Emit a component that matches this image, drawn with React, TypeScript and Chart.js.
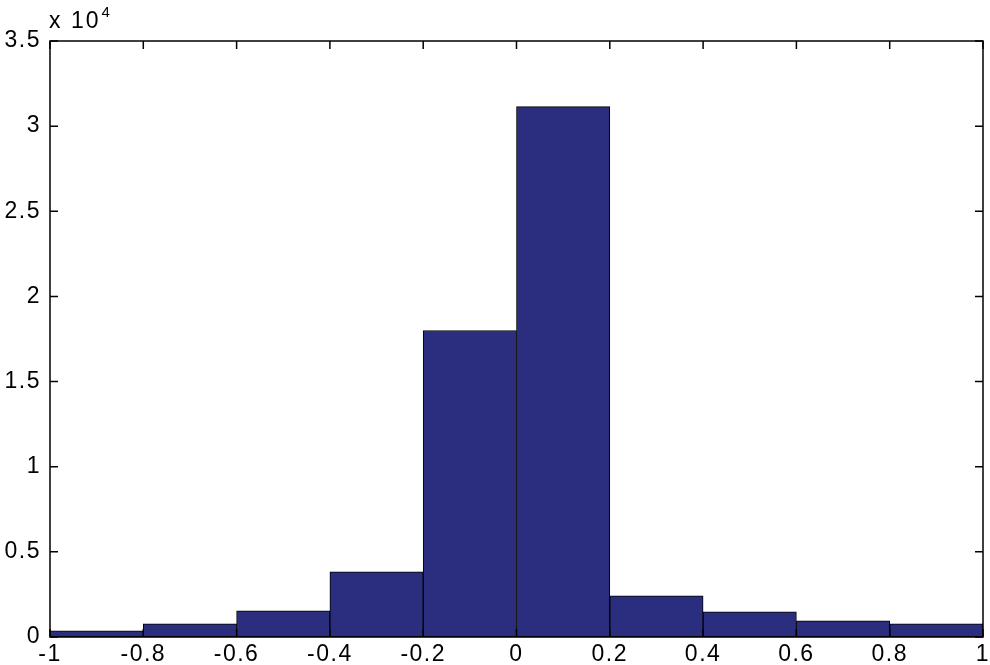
import React, { useEffect, useRef } from "react";
import { Chart, registerables } from "chart.js";

Chart.register(...registerables);

// Histogram bin centers (bins of width 0.2 from -1 to 1)
const binCenters = [-0.9, -0.7, -0.5, -0.3, -0.1, 0.1, 0.3, 0.5, 0.7, 0.9];
// Counts per bin
const counts = [360, 780, 1540, 3820, 18000, 31150, 2420, 1480, 950, 780];
// Axis ranges and steps
const xMin = -1;
const xMax = 1;
const xStep = 0.2;
const yMin = 0;
const yMax = 35000;
const yStep = 5000;
const yExponentLabel = "x 10";
const yExponent = "4";

const FONT = "Liberation Sans";
const FS = 23;
const LS = "1.5px";
const BAR_COLOR = "#2b2e7e";

const boxPlugin = {
  id: "matlabBox",
  beforeInit(chart: any) {
    (chart.ctx as any).letterSpacing = LS;
  },
  beforeDraw(chart: any) {
    (chart.ctx as any).letterSpacing = LS;
  },
  afterDraw(chart: any) {
    const ctx = chart.ctx;
    const a = chart.chartArea;
    const xs = chart.scales.x;
    const ys = chart.scales.y;
    ctx.save();
    (ctx as any).letterSpacing = "0px";
    ctx.strokeStyle = "#000";
    ctx.lineWidth = 1.5;
    ctx.strokeRect(a.left, a.top, a.right - a.left, a.bottom - a.top);
    const tl = 8;
    ctx.beginPath();
    xs.ticks.forEach((t: any) => {
      const px = xs.getPixelForValue(t.value);
      ctx.moveTo(px, a.bottom);
      ctx.lineTo(px, a.bottom - tl);
      ctx.moveTo(px, a.top);
      ctx.lineTo(px, a.top + tl);
    });
    ys.ticks.forEach((t: any) => {
      const py = ys.getPixelForValue(t.value);
      ctx.moveTo(a.left, py);
      ctx.lineTo(a.left + tl, py);
      ctx.moveTo(a.right, py);
      ctx.lineTo(a.right - tl, py);
    });
    ctx.stroke();
    // exponent label
    ctx.fillStyle = "#000";
    ctx.textBaseline = "alphabetic";
    ctx.textAlign = "left";
    (ctx as any).letterSpacing = "2px";
    ctx.font = `${FS}px "${FONT}"`;
    ctx.fillText(yExponentLabel, a.left - 1, 28);
    const w = ctx.measureText(yExponentLabel).width;
    ctx.font = `15px "${FONT}"`;
    ctx.fillText(yExponent, a.left + w, 17);
    ctx.restore();
  },
};

export default function App() {
  const ref = useRef<HTMLCanvasElement>(null);
  useEffect(() => {
    if (!ref.current) return;
    const chart = new Chart(ref.current, {
      type: "bar",
      data: {
        datasets: [
          {
            data: binCenters.map((c, i) => ({ x: c, y: counts[i] })),
            backgroundColor: BAR_COLOR,
            borderColor: "#000",
            borderWidth: 1,
            borderSkipped: false,
            barPercentage: 1,
            categoryPercentage: 1,
          },
        ],
      },
      options: {
        responsive: false,
        animation: false,
        layout: { padding: { top: 41, right: 0, left: 0, bottom: 0 } },
        plugins: {
          legend: { display: false },
          tooltip: { enabled: false },
        },
        scales: {
          x: {
            type: "linear",
            min: xMin,
            max: xMax,
            offset: false,
            grid: { display: false, drawTicks: false },
            border: { display: false },
            afterFit: (s: any) => {
              s.height = 28;
              s.paddingLeft = 0;
              s.paddingRight = 7;
            },
            ticks: {
              stepSize: xStep,
              padding: 4,
              color: "#000",
              font: { family: FONT, size: FS },
              maxRotation: 0,
              autoSkip: false,
              callback: (v: any) => String(Math.round(Number(v) * 10) / 10),
            },
          },
          y: {
            min: yMin,
            max: yMax,
            grid: { display: false, drawTicks: false },
            border: { display: false },
            afterFit: (s: any) => {
              s.width = 50;
            },
            ticks: {
              stepSize: yStep,
              padding: 9,
              color: "#000",
              font: { family: FONT, size: FS },
              callback: (v: any) => String(Math.round(Number(v) / 1000) / 10),
            },
          },
        },
      },
      plugins: [boxPlugin],
    });
    return () => chart.destroy();
  }, []);
  return (
    <div style={{ position: "fixed", left: 0, top: 0, width: 990, height: 665, background: "#fff" }}>
      <canvas ref={ref} width={990} height={665} />
    </div>
  );
}
